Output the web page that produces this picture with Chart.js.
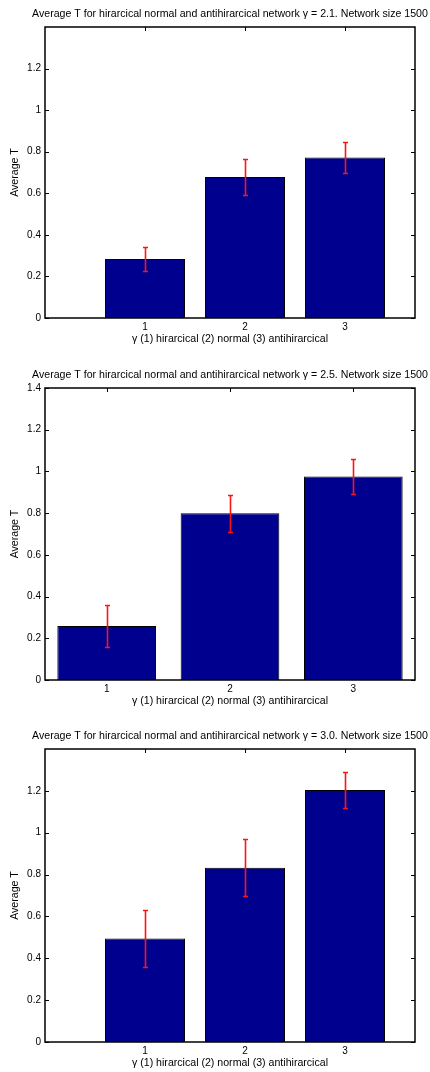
<!DOCTYPE html>
<html><head><meta charset="utf-8">
<script src="https://cdn.jsdelivr.net/npm/chart.js@4.4.0/dist/chart.umd.min.js"></script>
<style>
html,body{margin:0;padding:0;background:#fff;width:430px;height:1072px;overflow:hidden;}
canvas{position:absolute;left:0;}
</style></head><body>
<canvas id="c1" width="430" height="348" style="top:0px"></canvas>
<canvas id="c2" width="430" height="349" style="top:361px"></canvas>
<canvas id="c3" width="430" height="350" style="top:722px"></canvas>
<script>
// ---- data ----
const categories = [1, 2, 3];
const xTickLabels = ['1', '2', '3'];
const gammaLabels = ['2.1', '2.5', '3.0'];
const meanG21 = [0.284, 0.678, 0.772];
const errG21  = [0.058, 0.087, 0.074];
const meanG25 = [0.259, 0.800, 0.976];
const errG25  = [0.099, 0.089, 0.085];
const meanG30 = [0.495, 0.833, 1.204];
const errG30  = [0.135, 0.136, 0.084];
const yTicksG21 = [0, 0.2, 0.4, 0.6, 0.8, 1, 1.2];
const yTicksG25 = [0, 0.2, 0.4, 0.6, 0.8, 1, 1.2, 1.4];
const yTicksG30 = [0, 0.2, 0.4, 0.6, 0.8, 1, 1.2];
const yTickLabelsG21 = ['0', '0.2', '0.4', '0.6', '0.8', '1', '1.2'];
const yTickLabelsG25 = ['0', '0.2', '0.4', '0.6', '0.8', '1', '1.2', '1.4'];
const yTickLabelsG30 = ['0', '0.2', '0.4', '0.6', '0.8', '1', '1.2'];
const xRangeG21 = [0, 3.7];
const xRangeG25 = [0.5, 3.5];
const xRangeG30 = [0, 3.7];
const yRange = [0, 1.4];
const xAxisLabel = 'γ (1) hirarcical (2) normal (3) antihirarcical';
const yAxisLabel = 'Average T';
const titleText = g => 'Average T for hirarcical normal and antihirarcical network γ = ' + g + '. Network size 1500';

// ---- styling ----
const FONT = 'Liberation Sans, Arial, Helvetica, sans-serif';
Chart.defaults.font.family = FONT;
Chart.defaults.font.size = 10.6;
Chart.defaults.color = '#000';

const matlabAxes = {
  id: 'matlabAxes',
  beforeDatasetsDraw(chart) {
    const {ctx, chartArea: a, scales: {x, y}} = chart;
    const L = 4;
    ctx.save();
    ctx.strokeStyle = '#000';
    ctx.lineWidth = 1;
    ctx.beginPath();
    y.ticks.forEach(t => {
      const py = Math.round(y.getPixelForValue(t.value)) + 0.5;
      ctx.moveTo(a.left, py); ctx.lineTo(a.left + L, py);
      ctx.moveTo(a.right, py); ctx.lineTo(a.right - L, py);
    });
    x.ticks.forEach(t => {
      const px = Math.round(x.getPixelForValue(t.value)) + 0.5;
      ctx.moveTo(px, a.top); ctx.lineTo(px, a.top + L);
      ctx.moveTo(px, a.bottom); ctx.lineTo(px, a.bottom - L);
    });
    ctx.stroke();
    ctx.restore();
  },
  afterDatasetsDraw(chart, args, opts) {
    const {ctx, chartArea: a, scales: {x, y}} = chart;
    const ds = chart.data.datasets[0];
    ctx.save();
    ctx.strokeStyle = 'rgb(255,20,20)';
    ctx.lineWidth = 1.6;
    ds.data.forEach((p, i) => {
      const e = ds.errors[i];
      const px = Math.round(x.getPixelForValue(p.x)) + 0.5;
      const yt = Math.round(y.getPixelForValue(p.y + e)) + 0.5;
      const yb = Math.round(y.getPixelForValue(p.y - e)) + 0.5;
      ctx.beginPath();
      ctx.moveTo(px, yt); ctx.lineTo(px, yb);
      ctx.moveTo(px - 2.5, yt); ctx.lineTo(px + 2.5, yt);
      ctx.moveTo(px - 2.5, yb); ctx.lineTo(px + 2.5, yb);
      ctx.stroke();
    });
    ctx.restore();
    // axes box
    ctx.save();
    ctx.strokeStyle = '#000';
    ctx.lineWidth = 1.5;
    ctx.strokeRect(a.left, a.top, a.right - a.left, a.bottom - a.top);
    ctx.restore();
    // title, centred over the axes (MATLAB style, allowed to overflow the axes width)
    ctx.save();
    ctx.fillStyle = '#000';
    ctx.font = '10.6px ' + FONT;
    ctx.textAlign = 'center';
    ctx.textBaseline = 'middle';
    ctx.fillText(opts.title, (a.left + a.right) / 2, a.top - 13);
    ctx.restore();
  }
};

function makePanel(id, gamma, means, errs, yTicks, yTickLabels, xRange) {
  new Chart(document.getElementById(id), {
    type: 'bar',
    data: {
      datasets: [{
        data: categories.map((c, i) => ({x: c, y: means[i]})),
        errors: errs,
        backgroundColor: '#00008f',
        borderColor: '#000',
        borderWidth: 1,
        borderSkipped: false,
        barPercentage: 0.8,
        categoryPercentage: 1
      }]
    },
    options: {
      responsive: false,
      animation: false,
      devicePixelRatio: 1,
      layout: {padding: {left: 0, right: 15, top: 27, bottom: 0}},
      plugins: {
        legend: {display: false},
        tooltip: {enabled: false},
        title: {display: false},
        matlabAxes: {title: titleText(gamma)}
      },
      scales: {
        x: {
          type: 'linear', min: xRange[0], max: xRange[1], offset: false, bounds: 'data',
          afterBuildTicks: s => { s.ticks = categories.map(v => ({value: v})); },
          afterFit: s => { s.height = 30; },
          grid: {display: false, drawTicks: false},
          border: {display: false},
          ticks: {padding: 3, font: {size: 10}, color: '#000',
                  callback: v => xTickLabels[categories.indexOf(v)]},
          title: {display: true, text: xAxisLabel, font: {size: 10.6}, color: '#000',
                  padding: {top: 0, bottom: 2.64}}
        },
        y: {
          min: yRange[0], max: yRange[1], bounds: 'data',
          afterBuildTicks: s => { s.ticks = yTicks.map(v => ({value: v})); },
          afterFit: s => { s.width = 45; },
          grid: {display: false, drawTicks: false},
          border: {display: false},
          ticks: {padding: 4, font: {size: 10}, color: '#000',
                  callback: v => yTickLabels[yTicks.indexOf(v)]},
          title: {display: true, text: yAxisLabel, font: {size: 10.6}, color: '#000',
                  padding: {top: 9.14, bottom: 0}}
        }
      }
    },
    plugins: [matlabAxes]
  });
}

makePanel('c1', gammaLabels[0], meanG21, errG21, yTicksG21, yTickLabelsG21, xRangeG21);
makePanel('c2', gammaLabels[1], meanG25, errG25, yTicksG25, yTickLabelsG25, xRangeG25);
makePanel('c3', gammaLabels[2], meanG30, errG30, yTicksG30, yTickLabelsG30, xRangeG30);
</script>
</body></html>
